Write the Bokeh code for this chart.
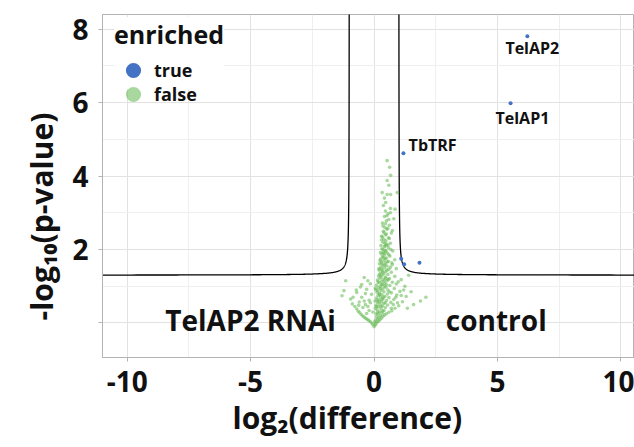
import numpy as np
from bokeh.plotting import figure
from bokeh.models import (Range1d, Legend, LegendItem, Label, ColumnDataSource,
                          FixedTicker, LabelSet, Title)
from bokeh.embed import file_html
from bokeh.resources import INLINE
from bokeh.core.properties import value

# ---------------- data ----------------
# non-enriched proteins (log2 difference, -log10 p)
bg_x = [0.00, 0.04, -0.05, 0.08, -0.10, 0.12, 0.02, -0.16, 0.18, -0.22, 0.06, 0.24, -0.28, 0.14, -0.34, 0.30,
        0.20, -0.40, 0.10, 0.36, -0.46, 0.26, 0.42, -0.52, 0.16, 0.50, -0.30, 0.32, -0.58, 0.60, 0.22, -0.64,
        0.72, 0.40, -0.20,
        0.12, -0.70, 0.28, 0.85, 0.05, -0.45, 0.46, 0.18, -0.78, 0.34, 1.00, 0.08, 0.55, -0.35, 0.24, -0.88,
        0.40, 0.14, 0.68, -0.60, 0.30, 1.15, 0.04, 0.50, -0.20, 0.20, 0.80, -0.95, 0.36, 0.10, 0.60, -0.50,
        0.26, 1.30, 0.44, -1.30, 0.16, 0.92, 0.32, -0.10, 0.54, 1.88, 2.10,
        0.22, 0.70, -0.70, 0.12, 0.40, 1.05, -1.22, 0.28, 0.56, 0.06, -0.30, 0.36, 0.82, 0.18, 0.48, -0.55,
        0.26, 1.25, 0.64, 0.10, 0.34, 0.90, -0.15, 0.44, 0.20, 0.74, 0.30, -1.15, 0.52, 0.14, 1.10, 0.38,
        0.62, 0.24, -0.40, 0.46, 0.84, 0.18, 0.32, 0.56, 1.40, 0.40, 0.26, 0.70,
        0.48, 0.34, 0.20, 0.60, 0.90, 0.42, 0.28, 0.52, 0.36, 0.74, 0.22, 0.46, 0.30, 0.58, 0.40, 0.84,
        0.26, 0.50, 0.34, 0.64, 0.42, 0.30, 0.54, 0.38, 0.76, 0.46, 0.32, 0.58, 0.42, 0.28, 0.50, 0.66, 0.36,
        0.48, 0.40, 0.58, 0.30, 0.46, 0.70, 0.38, 0.52, 0.44, 0.62, 0.34, 0.50, 0.80, 0.42, 0.56, 0.46, 0.66,
        0.38,
        0.53, 0.63, 0.67, 0.53, 0.33, 0.53, 0.67, 0.94, 0.47,
        0.15, 0.35, 0.08, 0.28, 0.45, 0.12, 0.38, 0.22, 0.62, 0.05,
        0.42, 0.30, 0.16, 0.58, 0.48, 0.28, 0.36, 0.20, 0.66, 0.44,
        0.32, 0.54, 0.24, 0.46, 0.38, 0.60, 0.26, 0.48, 0.36, 0.56,
        0.44, 0.30, 0.62, 0.50, 0.40, 0.56, 0.36, 0.46, 0.60, 0.52,
        0.70, 0.95, 1.10, 1.20, 0.98, 1.50, 1.60, 1.35, 0.78, 0.88,
        -0.25, -0.40, -0.62, -0.85, -0.15, -0.05, -0.72, -0.35, -0.50, -0.25,
        0.10, 0.20, 0.32, 0.14, 0.26, 0.50, 0.40, 0.22, 0.52, 0.30,
        0.72, 0.40, 0.68, 0.34, 0.74, 0.66, 0.42, 0.85, 0.60, 0.45]
bg_y = [-0.10, -0.06, -0.04, -0.02, 0.00, 0.02, 0.03, 0.04, 0.05, 0.07, 0.08, 0.09, 0.10, 0.11, 0.13, 0.13,
        0.15, 0.16, 0.17, 0.18, 0.19, 0.20, 0.22, 0.23, 0.24, 0.25, 0.26, 0.27, 0.28, 0.29, 0.30, 0.32,
        0.33, 0.34, 0.34,
        0.36, 0.38, 0.38, 0.40, 0.40, 0.42, 0.42, 0.44, 0.45, 0.46, 0.47, 0.48, 0.49, 0.50, 0.51, 0.52,
        0.53, 0.55, 0.56, 0.57, 0.58, 0.58, 0.60, 0.61, 0.62, 0.63, 0.64, 0.65, 0.66, 0.68, 0.69, 0.70,
        0.71, 0.72, 0.73, 0.74, 0.75, 0.76, 0.77, 0.78, 0.79, 0.60, 0.70,
        0.80, 0.82, 0.83, 0.84, 0.85, 0.86, 0.88, 0.88, 0.90, 0.91, 0.92, 0.93, 0.94, 0.96, 0.97, 0.98,
        1.00, 1.00, 1.02, 1.03, 1.05, 1.06, 1.07, 1.08, 1.10, 1.11, 1.13, 1.15, 1.15, 1.17, 1.18, 1.19,
        1.21, 1.22, 1.24, 1.25, 1.27, 1.28, 1.30, 1.32, 1.30, 1.34, 1.36, 1.38,
        1.40, 1.42, 1.44, 1.46, 1.48, 1.50, 1.52, 1.55, 1.57, 1.59, 1.61, 1.63, 1.66, 1.68, 1.70, 1.72,
        1.74, 1.77, 1.80, 1.82, 1.85, 1.88, 1.90, 1.93, 1.96, 1.98, 2.02, 2.05, 2.08, 2.11, 2.14, 2.17, 2.20,
        2.24, 2.28, 2.32, 2.36, 2.40, 2.45, 2.50, 2.55, 2.60, 2.66, 2.72, 2.78, 2.84, 2.90, 2.97, 3.05, 3.12,
        3.20,
        4.42, 4.24, 4.02, 3.88, 3.55, 3.50, 3.50, 3.55, 3.28,
        0.30, 0.32, 0.25, 0.45, 0.55, 0.62, 0.70, 0.78, 0.85, 0.95,
        1.00, 1.05, 1.12, 1.18, 1.22, 1.26, 1.38, 1.48, 1.52, 1.58,
        1.62, 1.66, 1.70, 1.75, 1.78, 1.86, 1.92, 1.95, 2.00, 2.12,
        2.18, 2.26, 2.30, 2.42, 2.46, 2.58, 2.64, 2.70, 2.82, 2.92,
        0.40, 0.55, 0.75, 0.90, 1.12, 0.85, 0.50, 0.40, 0.50, 0.70,
        0.45, 0.60, 0.48, 0.70, 0.55, 0.30, 0.90, 0.80, 1.05, 1.15,
        0.45, 0.58, 0.64, 0.88, 0.94, 1.04, 1.14, 1.32, 1.44, 1.46,
        1.64, 1.90, 2.00, 2.34, 2.52, 3.00, 3.40, 3.10, 3.75, 2.10]

# enriched proteins
en_x = [6.21, 5.53, 1.19, 1.10, 1.22, 1.84]
en_y = [7.81, 5.98, 4.62, 1.75, 1.60, 1.64]

# label positions for named hits
lab_x = [5.32, 4.92, 1.40]
lab_y = [7.48, 5.59, 4.84]
lab_text = ["TelAP2", "TelAP1", "TbTRF"]

# significance threshold curve parameters (s0, curvature, -log10 level)
s0 = 1.0
curv = 0.05
y0 = 1.3

x_ticks = [-10, -5, 0, 5, 10]
x_minor = [-7.5, -2.5, 2.5, 7.5]
y_ticks = [0, 2, 4, 6, 8]
y_minor = [1, 3, 5, 7]

FONT = "Open Sans"
BLUE = "#4472C4"
GREEN = "#62B850"
TXT = "#111111"

# ---------------- figure ----------------
p = figure(width=634, height=447, output_backend="svg", toolbar_location=None,
           x_range=Range1d(-11, 10.55), y_range=Range1d(-0.94, 8.4),
           min_border_left=102, min_border_right=0, min_border_top=14,
           min_border_bottom=90)
p.background_fill_color = "white"
p.border_fill_color = "white"
p.outline_line_color = "#b3b3b3"
p.outline_line_width = 1

p.xaxis.ticker = FixedTicker(ticks=x_ticks, minor_ticks=x_minor)
p.yaxis.ticker = FixedTicker(ticks=y_ticks, minor_ticks=y_minor)
p.xaxis.major_label_overrides = {t: str(t) for t in x_ticks}
p.yaxis.major_label_overrides = {0: ""}

for ax in (p.xaxis[0], p.yaxis[0]):
    ax.axis_line_color = "#b3b3b3"
    ax.major_tick_line_color = "#b3b3b3"
    ax.major_tick_out = 4
    ax.major_tick_in = 0
    ax.minor_tick_line_color = None
    ax.major_label_text_font = FONT
    ax.major_label_text_font_style = "bold"
    ax.major_label_text_font_size = "28px"
    ax.major_label_text_color = TXT
p.xaxis.major_label_standoff = 9
p.yaxis.major_label_standoff = 10

for g in (p.xgrid[0], p.ygrid[0]):
    g.grid_line_color = "#e2e2e2"
    g.grid_line_width = 1
    g.minor_grid_line_color = "#efefef"
    g.minor_grid_line_width = 1

# axis titles
p.add_layout(Title(text="log₂(difference)", align="left", offset=130,
                   standoff=0, text_font=FONT, text_font_style="bold",
                   text_font_size="30px", text_color=TXT), "below")
p.add_layout(Title(text="-log₁₀(p-value)", align="left", offset=37,
                   standoff=16, text_font=FONT, text_font_style="bold",
                   text_font_size="30px", text_color=TXT), "left")

# threshold curve
xl = -s0 - np.geomspace(0.005, 10.0, 300)
xr = s0 + np.geomspace(0.005, 10.0, 300)
p.line(xl, y0 + curv / (np.abs(xl) - s0), line_color="black", line_width=1.3)
p.line(xr, y0 + curv / (np.abs(xr) - s0), line_color="black", line_width=1.3)

g_r = p.scatter(bg_x, bg_y, size=3.6, fill_color=GREEN, fill_alpha=0.55,
                line_color=None)
b_r = p.scatter(en_x, en_y, size=4, fill_color=BLUE, line_color=None)

src = ColumnDataSource(dict(x=lab_x, y=lab_y, t=lab_text))
p.add_layout(LabelSet(x="x", y="y", text="t", source=src, text_font=value(FONT),
                      text_font_style="bold", text_font_size="16px",
                      text_color=TXT, text_baseline="middle", text_align="left"))

p.add_layout(Label(x=-5.0, y=0.08, text="TelAP2 RNAi", text_font=FONT,
                   text_font_style="bold", text_font_size="28px", text_color=TXT,
                   text_align="center", text_baseline="middle"))
p.add_layout(Label(x=4.95, y=0.08, text="control", text_font=FONT,
                   text_font_style="bold", text_font_size="28px", text_color=TXT,
                   text_align="center", text_baseline="middle"))

common = dict(label_text_font=FONT, label_text_font_style="bold",
              label_text_font_size="18px", label_text_color=TXT,
              glyph_width=38, glyph_height=38, padding=5, label_standoff=2,
              border_line_color=None)
legend_a = Legend(items=[LegendItem(label="true", renderers=[b_r])],
                  location=(12, 268), title="enriched",
                  title_text_font=FONT, title_text_font_style="bold",
                  title_text_font_size="25px", title_text_color=TXT,
                  title_standoff=0, background_fill_color="white",
                  background_fill_alpha=1.0, **common)
legend_b = Legend(items=[LegendItem(label="false", renderers=[g_r])],
                  location=(12, 244), background_fill_alpha=0.0, **common)
p.add_layout(legend_a)
p.add_layout(legend_b)

open("out.html", "w").write(file_html(p, INLINE))
